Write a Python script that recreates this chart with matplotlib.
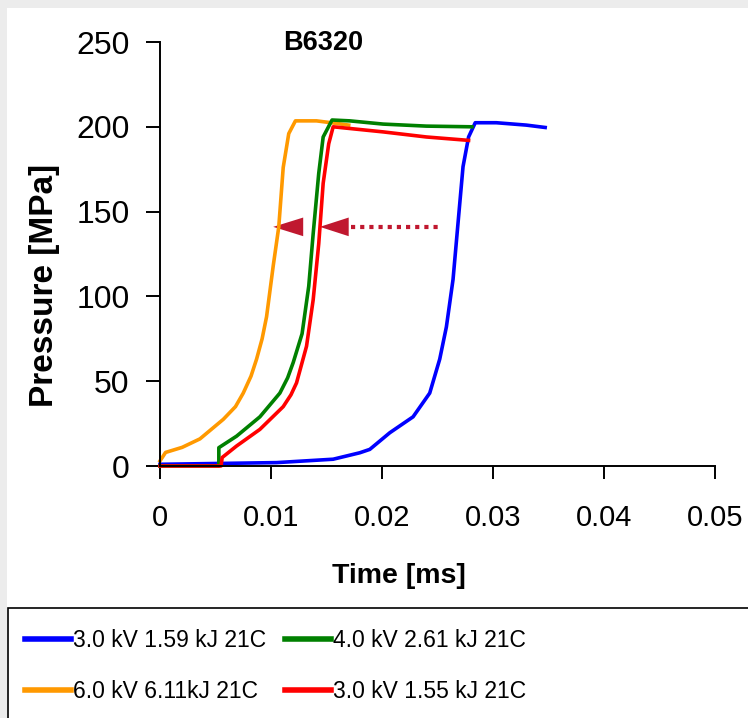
import matplotlib
matplotlib.use("Agg")
import matplotlib.pyplot as plt
from matplotlib.patches import Rectangle, Polygon

plt.rcParams['font.family'] = ['Liberation Sans', 'DejaVu Sans']

# pressure traces: time [ms], pressure [MPa]
blue_t = [0, 0.0105, 0.0156, 0.0180, 0.0189, 0.0207, 0.0228, 0.0243, 0.0252, 0.0258,
          0.0264, 0.0269, 0.0273, 0.0278, 0.0284, 0.0303, 0.0330, 0.0347]
blue_p = [1, 2, 4, 7.8, 9.8, 19.6, 29, 43, 63, 82, 110, 147, 176.5, 194, 202.4, 202.4, 201, 199.6]

orange_t = [0, 0.0005, 0.0020, 0.0036, 0.0057, 0.0068, 0.0075, 0.0082, 0.0087, 0.0092,
            0.0096, 0.0102, 0.0107, 0.0111, 0.0116, 0.0122, 0.0141, 0.0159, 0.0170]
orange_p = [3, 8, 11, 16, 27.5, 35, 43, 53, 63, 75, 88, 118, 141, 176, 196, 203.5, 203.5, 202, 201]

green_t = [0, 0.0053, 0.0053, 0.0069, 0.0090, 0.0108, 0.0115, 0.0120, 0.0128, 0.0134, 0.0138,
           0.0143, 0.0147, 0.0155, 0.0171, 0.0201, 0.0240, 0.0281]
green_p = [0, 0, 10.8, 17.6, 29, 43, 52, 61, 78, 106, 137, 172.5, 194, 204, 203.5, 201.6, 200.4, 200]

red_t = [0, 0.0055, 0.0056, 0.0069, 0.0090, 0.0111, 0.0118, 0.0123, 0.0132, 0.0138, 0.0143,
         0.0147, 0.0152, 0.0156, 0.0171, 0.0201, 0.0240, 0.0278]
red_p = [0, 0, 5, 11.8, 21.6, 35, 42, 49, 70.6, 98, 131, 166.7, 190, 200, 199, 197, 194, 192]

labels = ["3.0 kV 1.59 kJ 21C", "4.0 kV 2.61 kJ 21C", "6.0 kV 6.11kJ 21C", "3.0 kV 1.55 kJ 21C"]

# annotation arrows (shift of the rise)
arrow_p = 141
arrow_tips = [0.0144, 0.0102]
arrow_bases = [0.0170, 0.0129]
dotted_from, dotted_to = 0.0172, 0.0252
arrow_col = '#C0182F'

fig = plt.figure(figsize=(7.48, 7.18), dpi=100)
fig.patch.set_facecolor('#ececec')
fig.patches.append(Rectangle((7 / 748, 0), 1, 1 - 8 / 718, transform=fig.transFigure,
                             facecolor='white', edgecolor='none', zorder=-5))

ax = fig.add_axes([160 / 748, 1 - 466 / 718, 555 / 748, 424 / 718])
ax.set_facecolor('none')
ax.set_zorder(2)

lw = 2.6
l_orange, = ax.plot(orange_t, orange_p, color='#FF9900', lw=lw, clip_on=False)
l_blue, = ax.plot(blue_t, blue_p, color='#0000FF', lw=lw, clip_on=False)
l_green, = ax.plot(green_t, green_p, color='#008000', lw=lw, clip_on=False)
l_red, = ax.plot(red_t, red_p, color='#FF0000', lw=lw, clip_on=False)

ax.plot([dotted_from, dotted_to], [arrow_p, arrow_p], color=arrow_col, lw=3,
        linestyle=(0, (1.0, 1.2)))
for tip, base in zip(arrow_tips, arrow_bases):
    ax.add_patch(Polygon([(tip, arrow_p), (base, arrow_p + 5.5), (base, arrow_p - 5.5)],
                         closed=True, facecolor=arrow_col, edgecolor='none'))

ax.set_xlim(0, 0.05)
ax.set_ylim(0, 250)
ax.set_xticks([0, 0.01, 0.02, 0.03, 0.04, 0.05])
ax.set_xticklabels(['0', '0.01', '0.02', '0.03', '0.04', '0.05'])
ax.set_yticks([0, 50, 100, 150, 200, 250])
for s in ['top', 'right']:
    ax.spines[s].set_visible(False)
for s in ['left', 'bottom']:
    ax.spines[s].set_linewidth(1.4)
ax.tick_params(axis='y', direction='out', length=10, width=1.4, pad=12, labelsize=23)
ax.tick_params(axis='x', direction='out', length=9, width=1.4, pad=18, labelsize=21)

ax.set_ylabel('Pressure [MPa]', fontsize=24, fontweight='bold')
ax.yaxis.set_label_coords(-0.18, 0.427)
ax.set_xlabel('Time [ms]', fontsize=20.5, fontweight='bold')
ax.xaxis.set_label_coords(0.43, -0.228)

fig.text(323 / 748, 1 - 43 / 718, 'B6320', fontsize=19.5, fontweight='bold',
         ha='center', va='center')

# legend box runs off the bottom and right edges
fig.patches.append(Rectangle((8 / 748, -0.1), 1.2, 0.1 + 1 - 608 / 718,
                             transform=fig.transFigure, facecolor='white',
                             edgecolor='black', lw=1.2, zorder=1))
leg = fig.legend([l_blue, l_orange, l_green, l_red],
                 [labels[0], labels[2], labels[1], labels[3]],
                 ncol=2, loc='upper left', bbox_to_anchor=(16 / 748, 1 - 620 / 718),
                 frameon=False, prop={'size': 16.5},
                 handlelength=2.0, handletextpad=0.08, columnspacing=0.85,
                 labelspacing=1.2, borderaxespad=0)
for h in leg.get_lines():
    h.set_linewidth(4)

fig.savefig('out.png', dpi=100, facecolor=fig.get_facecolor())
